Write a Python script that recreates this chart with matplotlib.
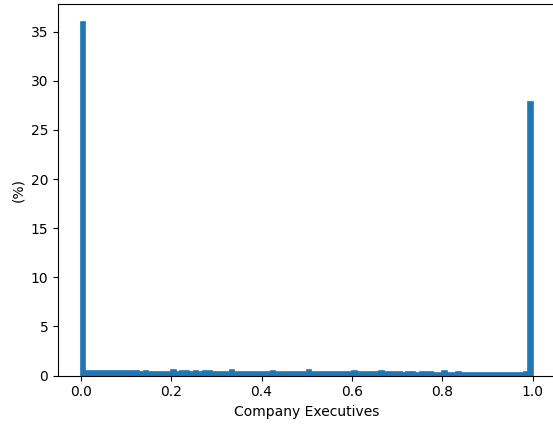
import matplotlib
matplotlib.use("Agg")
import matplotlib.pyplot as plt
import numpy as np

# share of firms (%) per bin of executive ratio, 100 bins of width 0.01
bin_edges = np.linspace(0.0, 1.0, 101)
percent = [
    36.0,
    0.42, 0.46, 0.47, 0.47, 0.48, 0.47, 0.48, 0.47, 0.46, 0.47, 0.46, 0.45,
    0.40, 0.48, 0.40, 0.39, 0.38, 0.40, 0.38, 0.52, 0.40, 0.47, 0.45, 0.38,
    0.46, 0.38, 0.41, 0.44, 0.38, 0.37, 0.40, 0.38, 0.55, 0.40, 0.38, 0.40,
    0.37, 0.38, 0.36, 0.34, 0.38, 0.42, 0.36, 0.37, 0.36, 0.35, 0.36, 0.35,
    0.36, 0.55, 0.34, 0.35, 0.34, 0.33, 0.34, 0.33, 0.34, 0.33, 0.32, 0.45,
    0.33, 0.38, 0.32, 0.31, 0.32, 0.48, 0.32, 0.36, 0.31, 0.38, 0.30, 0.31,
    0.36, 0.30, 0.40, 0.38, 0.36, 0.30, 0.29, 0.45, 0.28, 0.29, 0.35, 0.28,
    0.27, 0.26, 0.27, 0.26, 0.25, 0.26, 0.25, 0.25, 0.26, 0.25, 0.24, 0.25,
    0.27, 0.35,
    27.9,
]

fig = plt.figure(figsize=(5.53, 4.26), dpi=100)
ax = fig.add_axes([58 / 553, (426 - 375.5) / 426, 497.5 / 553, (375.5 - 4.3) / 426])

ax.hist(bin_edges[:-1], bins=bin_edges, weights=percent,
        histtype="stepfilled", color="C0", edgecolor="C0", linewidth=1.2)
ax.set_xlim(-0.05, 1.05)
ax.set_ylim(0, 37.8)
ax.set_xlabel("Company Executives")
ax.set_ylabel("(%)")

fig.savefig("out.png", dpi=100)
